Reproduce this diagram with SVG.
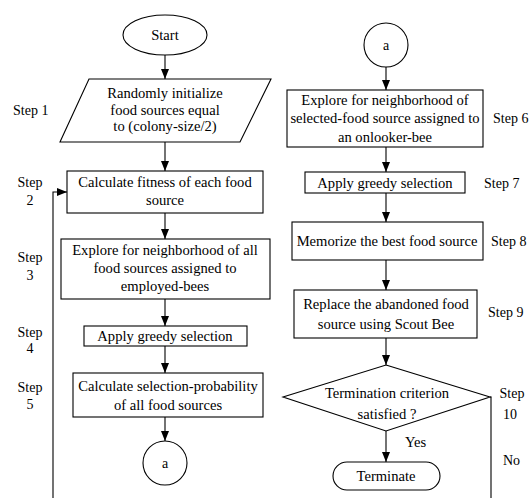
<svg xmlns="http://www.w3.org/2000/svg" width="530" height="498" viewBox="0 0 530 498">
<style>
.s{fill:#fff;stroke:#000;stroke-width:1.1}
.c{fill:none;stroke:#000;stroke-width:1.1}
text{font-family:"Liberation Serif","Times New Roman",serif;font-size:14.6px;fill:#000}
.m{text-anchor:middle}
.l{font-size:14px}
</style>
<defs>
<marker id="ah" markerUnits="userSpaceOnUse" markerWidth="10" markerHeight="8" refX="10" refY="4" orient="auto">
<path d="M0,0 L10,4 L0,8 z" fill="#000"/>
</marker>
</defs>
<rect width="530" height="498" fill="#fff"/>
<g id="connectors">
<line class="c" x1="165" y1="55" x2="165" y2="79" marker-end="url(#ah)"/>
<line class="c" x1="165" y1="142" x2="165" y2="171" marker-end="url(#ah)"/>
<line class="c" x1="165" y1="213" x2="165" y2="239" marker-end="url(#ah)"/>
<line class="c" x1="165" y1="299" x2="165" y2="326" marker-end="url(#ah)"/>
<line class="c" x1="165" y1="346" x2="165" y2="373" marker-end="url(#ah)"/>
<line class="c" x1="165" y1="417" x2="165" y2="441" marker-end="url(#ah)"/>
<polyline class="c" points="53,498 53,192 67,192" marker-end="url(#ah)"/>
<line class="c" x1="386" y1="67" x2="386" y2="90" marker-end="url(#ah)"/>
<line class="c" x1="386" y1="147" x2="386" y2="172" marker-end="url(#ah)"/>
<line class="c" x1="386" y1="193" x2="386" y2="222" marker-end="url(#ah)"/>
<line class="c" x1="386" y1="260" x2="386" y2="290" marker-end="url(#ah)"/>
<line class="c" x1="386" y1="338" x2="386" y2="365" marker-end="url(#ah)"/>
<line class="c" x1="386" y1="431" x2="386" y2="462" marker-end="url(#ah)"/>
<polyline class="c" points="490,397 491,397 491,498"/>
<text x="405" y="447">Yes</text>
<text x="503" y="465" class="l">No</text>
</g>
<g id="start">
<ellipse class="s" cx="165" cy="35" rx="42" ry="20"/>
<text x="165" y="40" class="m">Start</text>
</g>
<g id="step1">
<polygon class="s" points="89,79 271,79 240,142 60,142"/>
<text x="165" y="98" class="m">Randomly initialize</text>
<text x="165" y="115" class="m">food sources equal</text>
<text x="165" y="131" class="m">to (colony-size/2)</text>
<text x="13" y="115" class="l">Step 1</text>
</g>
<g id="step2">
<rect class="s" x="67" y="171" width="196" height="42"/>
<text x="165" y="187" class="m">Calculate fitness of each food</text>
<text x="165" y="205" class="m">source</text>
<text x="30" y="187" class="m l">Step</text>
<text x="30" y="205" class="m l">2</text>
</g>
<g id="step3">
<rect class="s" x="61" y="239" width="209" height="60"/>
<text x="165" y="255" class="m">Explore for neighborhood of all</text>
<text x="165" y="273" class="m">food sources assigned to</text>
<text x="165" y="291" class="m">employed-bees</text>
<text x="30" y="262" class="m l">Step</text>
<text x="30" y="280" class="m l">3</text>
</g>
<g id="step4">
<rect class="s" x="84" y="326" width="163" height="20"/>
<text x="165" y="341" class="m">Apply greedy selection</text>
<text x="30" y="337" class="m l">Step</text>
<text x="30" y="353" class="m l">4</text>
</g>
<g id="step5">
<rect class="s" x="73" y="373" width="190" height="44"/>
<text x="168" y="391" class="m">Calculate selection-probability</text>
<text x="168" y="410" class="m">of all food sources</text>
<text x="30" y="392" class="m l">Step</text>
<text x="30" y="409" class="m l">5</text>
</g>
<g id="connectorA1">
<circle class="s" cx="165" cy="463" r="22"/>
<text x="165" y="468" class="m l">a</text>
</g>
<g id="connectorA2">
<circle class="s" cx="386" cy="45" r="22"/>
<text x="386" y="50" class="m l">a</text>
</g>
<g id="step6">
<rect class="s" x="287" y="90" width="196" height="57"/>
<text x="385" y="105" class="m">Explore for neighborhood of</text>
<text x="385" y="123" class="m">selected-food source assigned to</text>
<text x="385" y="142" class="m">an onlooker-bee</text>
<text x="493" y="123" class="l">Step 6</text>
</g>
<g id="step7">
<rect class="s" x="305" y="172" width="160" height="21"/>
<text x="385" y="188" class="m">Apply greedy selection</text>
<text x="484" y="188" class="l">Step 7</text>
</g>
<g id="step8">
<rect class="s" x="292" y="222" width="191" height="38"/>
<text x="387" y="246" class="m">Memorize the best food source</text>
<text x="491" y="246" class="l">Step 8</text>
</g>
<g id="step9">
<rect class="s" x="294" y="290" width="183" height="48"/>
<text x="386" y="309" class="m">Replace the abandoned food</text>
<text x="386" y="329" class="m">source using Scout Bee</text>
<text x="488" y="317" class="l">Step 9</text>
</g>
<g id="step10">
<polygon class="s" points="386,365 490,397 386,431 283,397"/>
<text x="387" y="398" class="m">Termination criterion</text>
<text x="387" y="419" class="m">satisfied ?</text>
<text x="512" y="398" class="m l">Step</text>
<text x="510" y="419" class="m l">10</text>
</g>
<g id="terminate">
<rect class="s" x="333" y="462" width="107" height="28" rx="14" ry="14"/>
<text x="386" y="481" class="m">Terminate</text>
</g>
</svg>
